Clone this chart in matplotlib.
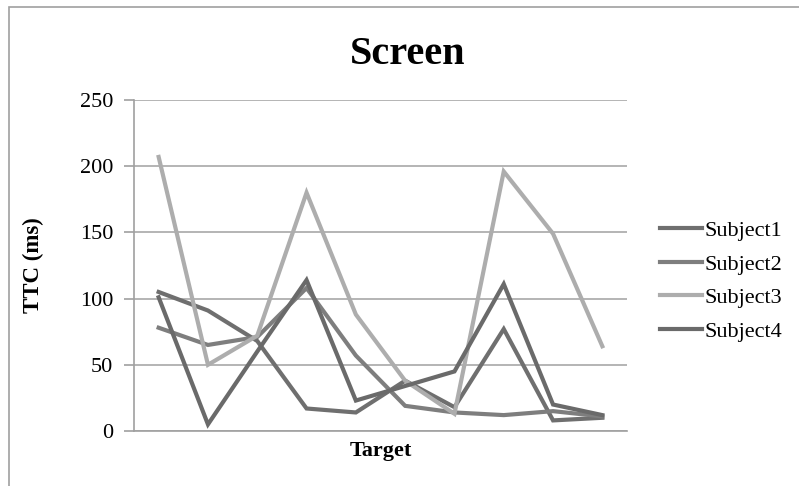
import matplotlib.pyplot as plt
from matplotlib.patches import Rectangle

# values
targets = list(range(1, 11))
subject1 = [105, 91, 68, 17, 14, 38, 18, 77, 8, 10]
subject2 = [78, 65, 71, 108, 57, 19, 14, 12, 15, 11]
subject3 = [207, 50, 72, 180, 88, 38, 13, 196, 149, 64]
subject4 = [101, 5, 60, 114, 23, 34, 45, 111, 20, 12]
series_names = ["Subject1", "Subject2", "Subject3", "Subject4"]
y_ticks = [0, 50, 100, 150, 200, 250]

colors = ["#6f6f6f", "#7e7e7e", "#adadad", "#6a6a6a"]
plt.rcParams["font.family"] = ["Liberation Serif", "DejaVu Serif"]

fig = plt.figure(figsize=(7.99, 4.86), dpi=100)
# outer chart frame (only top/left edges visible in the crop)
fig.patches.append(Rectangle((9 / 799, -0.1), 1.2, 1 - 7 / 486 + 0.1,
                             transform=fig.transFigure, fill=False,
                             edgecolor="#a0a0a0", lw=1.2))

ax = fig.add_axes([134 / 799, 1 - 431 / 486, (627 - 134) / 799, (431 - 100) / 486])
x = list(range(len(targets)))
for name, vals, c in zip(series_names, [subject1, subject2, subject3, subject4], colors):
    ax.plot(x, vals, color=c, lw=3, label=name, solid_joinstyle="miter")

ax.set_xlim(-0.5, len(targets) - 0.5)
ax.set_ylim(0, 250)
ax.set_yticks(y_ticks)
ax.set_xticks([])
ax.yaxis.grid(True, color="#a8a8a8", lw=1.2)
ax.set_axisbelow(True)
for s in ["top", "right"]:
    ax.spines[s].set_visible(False)
for s in ["left", "bottom"]:
    ax.spines[s].set_color("#a0a0a0")
    ax.spines[s].set_linewidth(1.2)
ax.tick_params(axis="y", length=7, color="#a0a0a0", width=1.2, labelsize=16, pad=8)

fig.text(408 / 799, 1 - 55 / 486, "Screen", fontsize=29, fontweight="bold",
         ha="center", va="center")
ax.set_ylabel("TTC (ms)", fontsize=16.5, fontweight="bold", labelpad=26)
ax.set_xlabel("Target", fontsize=16, fontweight="bold", labelpad=7.5)

ax.legend(loc="center left", bbox_to_anchor=(1.049, 0.453), frameon=False,
          borderaxespad=0, fontsize=16, handlelength=1.9, handletextpad=0.12,
          labelspacing=0.58)

fig.savefig("out.png", dpi=100)
